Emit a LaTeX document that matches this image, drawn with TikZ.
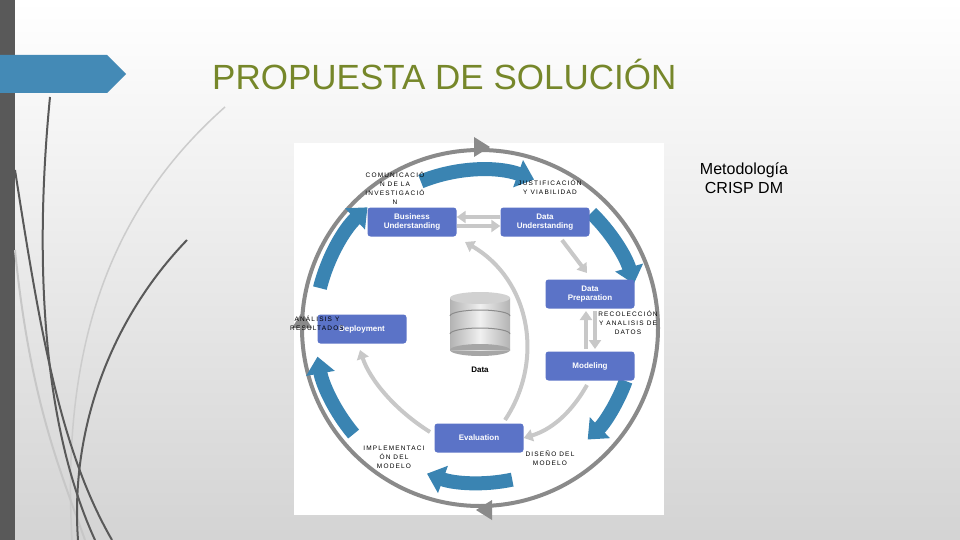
\documentclass[tikz,border=0pt]{standalone}
\usepackage{fontspec}
\setmainfont{Liberation Sans}
\newfontfamily\labfont[LetterSpace=18]{Liberation Sans}
\usetikzlibrary{arrows.meta,shapes.geometric}
\definecolor{boxblue}{HTML}{5B73C7}
\definecolor{cycblue}{HTML}{3A84B2}
\definecolor{ringgray}{HTML}{8A8A8A}
\definecolor{lightg}{HTML}{C8C8C8}
\definecolor{olive}{HTML}{76872A}
\tikzset{
 phase/.style={fill=boxblue,rounded corners=3pt,minimum width=89pt,minimum height=29pt,text=white,font=\bfseries\fontsize{8}{9}\selectfont,align=center,inner sep=1pt},
 lab/.style={font=\labfont\fontsize{6.5}{9}\selectfont,align=center,inner sep=0pt},
 cyc/.style={cycblue,line width=14pt,-{Triangle[length=17pt,width=28pt]}},
 inner/.style={lightg,line width=4pt,-{Triangle[length=9pt,width=12pt]}},
 deco/.style={line width=2pt,draw=black!65}
}
\begin{document}
\begin{tikzpicture}[x=1pt,y=-1pt]
\shade[top color=white,bottom color=black!17] (0,0) rectangle (960,540);
\useasboundingbox (0,0) rectangle (960,540);
\fill[black!65] (0,0) rectangle (15,540);
% deco curves
\draw[black!20,line width=1.5pt] (225,107) .. controls (120,200) and (60,330) .. (72,540);
\draw[black!22,line width=2pt] (15,250) .. controls (30,400) and (60,470) .. (85,540);
\draw[deco] (50,97) .. controls (35,250) and (40,420) .. (95,540);
\draw[deco] (15,170) .. controls (40,330) and (60,450) .. (112,540);
\draw[deco] (187,240) .. controls (110,320) and (70,430) .. (78,540);
% banner
\fill[cycblue!95!white] (0,55) -- (107,55) -- (126,74) -- (107,93) -- (0,93) -- cycle;
\node[anchor=west,text=olive,font=\fontsize{35}{38}\selectfont,inner sep=0pt] (title) at (212,74) {PROPUESTA DE SOLUCIÓN};
\node[font=\fontsize{16}{19}\selectfont,align=center] (meth) at (744,178) {Metodología\\CRISP DM};
% white panel
\fill[white] (294,143) rectangle (664,515);
\coordinate (c) at (480,328);
% ring
\draw[ringgray,line width=4pt] (c) circle (178);
\fill[ringgray] (490,147) -- (474,137) -- (474,157) -- cycle;
\fill[ringgray] (476,510) -- (492,500) -- (492,520) -- cycle;
\fill[ringgray] (302,312) -- (292,328) -- (312,328) -- cycle;
% blue cycle arrows
\draw[cyc] ([shift={(-112:158)}]c) arc[start angle=-112,end angle=-70,radius=158];
\draw[cyc] ([shift={(-46:160)}]c) arc[start angle=-46,end angle=-16,radius=160];
\draw[cyc] ([shift={(20:155)}]c) arc[start angle=20,end angle=46,radius=155];
\draw[cyc] ([shift={(78:155)}]c) arc[start angle=78,end angle=110,radius=155];
\draw[cyc] ([shift={(140:165)}]c) arc[start angle=140,end angle=170,radius=165];
\draw[cyc] ([shift={(-166:165)}]c) arc[start angle=-166,end angle=-133,radius=165];
% phases
\node[phase] (bu) at (412,222) {Business\\Understanding};
\node[phase] (du) at (545,222) {Data\\Understanding};
\node[phase] (dp) at (590,294) {Data\\Preparation};
\node[phase] (dep) at (362,329) {Deployment};
\node[phase] (mod) at (590,366) {Modeling};
\node[phase] (ev) at (479,438) {Evaluation};
% inner arrows
\draw[inner] ([yshift=-4pt]bu.east) -- ([yshift=-4pt]du.west);
\draw[inner] ([yshift=5pt]du.west) -- ([yshift=5pt]bu.east);
\draw[inner] (562,240) -- (587,273);
\draw[inner] (586,349) -- (586,311);
\draw[inner] (595,311) -- (595,349);
\draw[inner] (587,385) .. controls (570,415) and (550,430) .. (ev.east);
\draw[inner] (505,420) .. controls (545,360) and (530,280) .. (465,242);
\draw[inner] (430,432) .. controls (395,410) and (370,380) .. (360,350);
% data cylinder
\fill[black!35] (480,350) ellipse (30 and 6);
\shade[left color=black!30,right color=black!30,middle color=black!6] (450,298) rectangle (510,350);
\foreach \yy in {316,334}{\draw[black!45,line width=1pt] (450,\yy) arc[start angle=180,end angle=360,x radius=30,y radius=6];}
\fill[black!35] (450,350) arc[start angle=180,end angle=360,x radius=30,y radius=6] -- cycle;
\fill[black!18] (480,298) ellipse (30 and 6);
\node[font=\bfseries\fontsize{8}{9}\selectfont] (dlab) at (480,370) {Data};
% labels
\node[lab] (l1) at (395,188) {COMUNICACIÓ\\N DE LA\\INVESTIGACIÓ\\N};
\node[lab] (l2) at (550,187) {JUSTIFICACIÓN\\Y VIABILIDAD};
\node[lab] (l3) at (628,323) {RECOLECCIÓN\\Y ANALISIS DE\\DATOS};
\node[lab] (l4) at (317,323) {ANÁLISIS Y\\RESULTADOS};
\node[lab] (l5) at (394,457) {IMPLEMENTACI\\ÓN DEL\\MODELO};
\node[lab] (l6) at (550,458) {DISEÑO DEL\\MODELO};
\end{tikzpicture}
\end{document}
